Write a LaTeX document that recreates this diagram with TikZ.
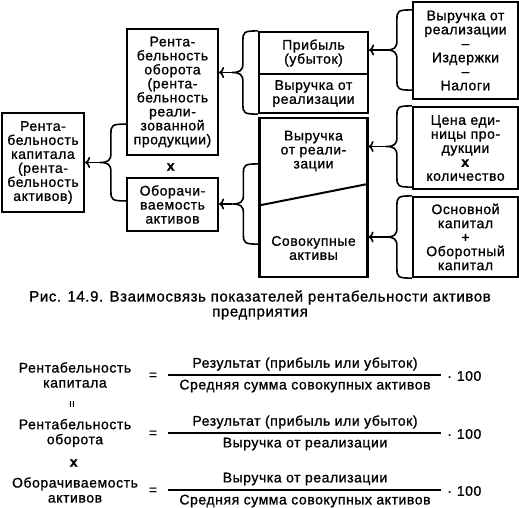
\documentclass[tikz,border=0pt]{standalone}
\usepackage{fontspec}
\setmainfont{Liberation Sans}[LetterSpace=4, FakeBold=1]
\usetikzlibrary{calc,arrows.meta}
\tikzset{
    box/.style={draw, line width=2.2pt, align=center, inner sep=0pt},
    txt/.style={align=center, inner sep=0pt},
    brc/.style={line width=1.6pt},
    frac/.style={line width=1.6pt},
}
\newcommand\brlink[3]{%
    \coordinate (bm) at ($(#1)!.5!(#2)$);
    \draw[brc] (#1) .. controls +(-14,0) and +(0,-9) .. ($(#1)+(-15,10)$)
        -- ($(bm)+(-15,-9)$) .. controls +(0,7) and +(8,0) .. ($(bm)+(-26,0)$)
        .. controls +(8,0) and +(0,-7) .. ($(bm)+(-15,9)$)
        -- ($(#2)+(-15,-10)$) .. controls +(0,9) and +(-14,0) .. (#2);
    \draw[brc,->] ($(bm)+(-26,0)$) -- (#3.east |- bm);
}
\begin{document}
\begin{tikzpicture}[x=1pt, y=-1pt, >={To[length=5pt,width=11pt]}, font=\fontsize{14}{14}\selectfont]
    \useasboundingbox (0,0) rectangle (519,507);
    \node[box, minimum width=82, minimum height=99] (rk) at (43,162.5) {Рента-\\бельность\\капитала\\(рента-\\бельность\\активов)};
    \node[box, minimum width=91, minimum height=126] (ro) at (172.5,92) {Рента-\\бельность\\оборота\\(рента-\\бельность\\реали-\\зованной\\продукции)};
    \node[txt] (mul) at (171,167) {\textbf{x}};
    \node[box, minimum width=91, minimum height=53] (oa) at (172.5,204.5) {Оборачи-\\ваемость\\активов};
    \node[box, minimum width=109, minimum height=42] (pr) at (313.5,53) {Прибыль\\(убыток)};
    \node[box, minimum width=109, minimum height=39] (vr) at (313.5,93.5) {Выручка от\\реализации};
    \node[box, minimum width=108, minimum height=159] (ak) at (313.5,197.5) {};
    \node[txt] (vr2) at (313.5,151) {Выручка\\от реали-\\зации};
    \node[txt] (sa) at (313.5,248) {Совокупные\\активы};
    \draw[line width=2pt] ($(ak.south west)!.45!(ak.north west)$) -- ($(ak.south east)!.585!(ak.north east)$);
    \node[box, minimum width=105, minimum height=97] (b1) at (465.5,50.5) {Выручка от\\реализации\\–\\Издержки\\–\\Налоги};
    \node[box, minimum width=105, minimum height=82] (b2) at (465.5,148) {Цена еди-\\ницы про-\\дукции\\\textbf{x}\\количество};
    \node[box, minimum width=105, minimum height=80] (b3) at (465.5,237) {Основной\\капитал\\+\\Оборотный\\капитал};
    \coordinate (t1) at ($(b1.north west)+(0,9)$);
    \coordinate (u1) at ($(b1.south west)+(0,-10)$);
    \coordinate (u2) at ($(b2.south west)+(0,-3)$);
    \coordinate (t5) at ($(ak.north west)+(0,47)$);
    \coordinate (u5) at ($(ak.south west)+(0,-34)$);
    \coordinate (t6) at ($(ro.south west)+(0,-32)$);
    \coordinate (u6) at ($(oa.north west)+(0,24)$);
    \brlink{t1}{u1}{pr}
    \brlink{pr.north west}{vr.south west}{ro}
    \brlink{b2.north west}{u2}{ak}
    \brlink{b3.north west}{b3.south west}{ak}
    \brlink{t5}{u5}{oa}
    \brlink{t6}{u6}{rk}
    \node[txt, font=\fontsize{15}{15}\selectfont] (cap) at (260,305) {Рис. 14.9. Взаимосвязь показателей рентабельности активов\\предприятия};
    \foreach \i/\y/\lab/\num/\den in {1/375/{Рентабельность\\капитала}/{Результат (прибыль или убыток)}/{Средняя сумма совокупных активов},
        2/433/{Рентабельность\\оборота}/{Результат (прибыль или убыток)}/{Выручка от реализации},
        3/490/{Оборачиваемость\\активов}/{Выручка от реализации}/{Средняя сумма совокупных активов}}
    {
        \node[txt, font=\fontsize{14}{15}\selectfont] (l\i) at (75,\y) {\lab};
        \node[txt] (e\i) at (153,\y+1) {=};
        \coordinate (fa\i) at (168,\y);
        \coordinate (fb\i) at (441,\y);
        \draw[frac] (fa\i) -- (fb\i);
        \node[txt] (n\i) at (305,\y-11) {\num};
        \node[txt, anchor=west] (c\i) at (447,\y+1) {·\hspace{5pt}100};
        \node[txt] (d\i) at (305,\y+11) {\den};
    }
    \node[txt, rotate=90, font=\fontsize{12}{12}\selectfont] (eq) at (73,404) {=};
    \node[txt] (x2) at (74,463) {\textbf{x}};
\end{tikzpicture}
\end{document}
